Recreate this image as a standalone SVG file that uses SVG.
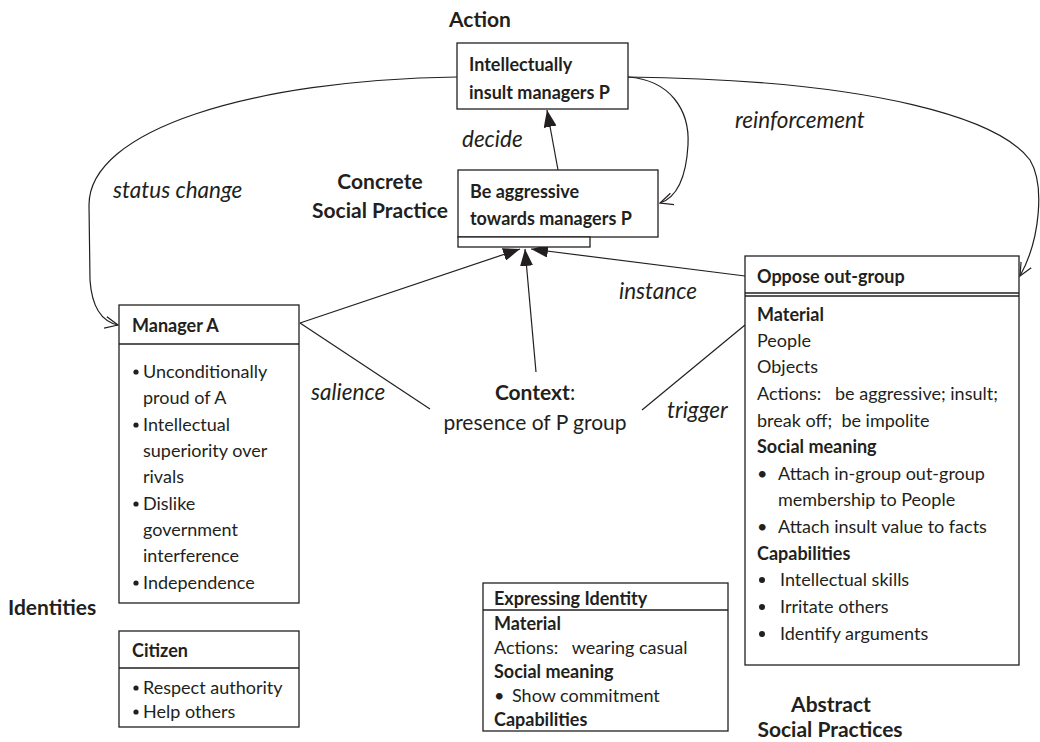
<svg xmlns="http://www.w3.org/2000/svg" width="1040" height="742" viewBox="0 0 1040 742">
  <defs>
    <style>
      text { font-family: Lato, "Open Sans", "Liberation Sans", sans-serif; fill: #231f20; }
      .box { fill: #ffffff; stroke: #231f20; stroke-width: 1.3; }
      .sep { stroke: #231f20; stroke-width: 1.3; fill: none; }
      .hd { font-size: 18px; font-weight: bold; }
      .tx { font-size: 18px; }
      .lbl { font-size: 22.5px; font-style: italic; }
      .cat { font-size: 21px; font-weight: bold; }
      .edge { fill: none; stroke: #231f20; stroke-width: 1.2; }
    </style>
    <marker id="solid" viewBox="0 0 17 13" refX="17" refY="6.5" markerWidth="17" markerHeight="13" markerUnits="userSpaceOnUse" orient="auto">
      <path d="M0,0 L17,6.5 L0,13 Z" fill="#231f20"/>
    </marker>
    <marker id="open" viewBox="0 0 14 14" refX="13" refY="7" markerWidth="14" markerHeight="14" markerUnits="userSpaceOnUse" orient="auto">
      <path d="M0,1 L13,7 L0,13" fill="none" stroke="#231f20" stroke-width="1.2"/>
    </marker>
  </defs>

  <rect width="1040" height="742" fill="#ffffff"/>

  <!-- category labels -->
  <g id="labels">
    <text class="cat" x="449" y="27">Action</text>
    <text class="cat" x="380" y="189" text-anchor="middle">Concrete</text>
    <text class="cat" x="380" y="218" text-anchor="middle">Social Practice</text>
    <text class="cat" x="8" y="615">Identities</text>
    <text class="cat" x="831" y="712" text-anchor="middle">Abstract</text>
    <text class="cat" x="830" y="737" text-anchor="middle">Social Practices</text>
  </g>

  <!-- connectors -->
  <g id="connectors">
    <line class="edge" x1="558" y1="170" x2="547" y2="110" marker-end="url(#solid)"/>
    <path class="edge" d="M457,77 C250,80 89,130 89,205 L90,280 C92,310 104,322 118,325" marker-end="url(#open)"/>
    <path class="edge" d="M628,77 C670,80 690,110 688,145 C686,180 675,198 660,203" marker-end="url(#open)"/>
    <path class="edge" d="M628,77 C880,80 1000,120 1030,160 C1045,185 1040,240 1020,276" marker-end="url(#open)"/>
    <line class="edge" x1="300" y1="323" x2="520" y2="249" marker-end="url(#solid)"/>
    <line class="edge" x1="536" y1="372" x2="525" y2="249" marker-end="url(#solid)"/>
    <line class="edge" x1="745" y1="276" x2="531" y2="249" marker-end="url(#solid)"/>
    <line class="edge" x1="300" y1="323" x2="430" y2="409"/>
    <line class="edge" x1="745" y1="325" x2="642" y2="410"/>
    <text class="lbl" x="462" y="147">decide</text>
    <text class="lbl" x="735" y="128">reinforcement</text>
    <text class="lbl" x="113" y="198">status change</text>
    <text class="lbl" x="619" y="299">instance</text>
    <text class="lbl" x="311" y="400">salience</text>
    <text class="lbl" x="667" y="418">trigger</text>
  </g>

  <!-- Action -->
  <g id="action">
    <rect class="box" x="457" y="43" width="171" height="66"/>
    <text class="hd" x="469" y="71">Intellectually</text>
    <text class="hd" x="469" y="99">insult managers P</text>
  </g>

  <!-- Concrete social practice -->
  <g id="concrete-practice">
    <rect class="box" x="458" y="170" width="200" height="67"/>
    <rect class="box" x="458" y="237" width="132" height="10"/>
    <text class="hd" x="470" y="198">Be aggressive</text>
    <text class="hd" x="470" y="225">towards managers P</text>
  </g>

  <!-- Context -->
  <g id="context">
    <text x="535" y="400" text-anchor="middle" style="font-size:21px"><tspan font-weight="bold">Context</tspan>:</text>
    <text x="535" y="430" text-anchor="middle" style="font-size:21px">presence of P group</text>
  </g>

  <!-- Manager A identity -->
  <g id="manager-a">
    <rect class="box" x="119" y="305" width="180" height="298"/>
    <line class="sep" x1="119" y1="344" x2="299" y2="344"/>
    <text class="hd" x="132" y="332">Manager A</text>
    <g class="tx">
      <circle cx="136" cy="372" r="2.6" fill="#231f20"/>
      <text x="143" y="378">Unconditionally</text>
      <text x="143" y="404">proud of A</text>
      <circle cx="136" cy="425" r="2.6" fill="#231f20"/>
      <text x="143" y="431">Intellectual</text>
      <text x="143" y="457">superiority over</text>
      <text x="143" y="483">rivals</text>
      <circle cx="136" cy="504" r="2.6" fill="#231f20"/>
      <text x="143" y="510">Dislike</text>
      <text x="143" y="536">government</text>
      <text x="143" y="562">interference</text>
      <circle cx="136" cy="583" r="2.6" fill="#231f20"/>
      <text x="143" y="589">Independence</text>
    </g>
  </g>

  <!-- Citizen identity -->
  <g id="citizen">
    <rect class="box" x="119" y="631" width="180" height="96"/>
    <line class="sep" x1="119" y1="668" x2="299" y2="668"/>
    <text class="hd" x="132" y="657">Citizen</text>
    <g class="tx">
      <circle cx="136" cy="688" r="2.6" fill="#231f20"/>
      <text x="143" y="694">Respect authority</text>
      <circle cx="136" cy="712" r="2.6" fill="#231f20"/>
      <text x="143" y="718">Help others</text>
    </g>
  </g>

  <!-- Oppose out-group practice -->
  <g id="oppose-out-group">
    <rect class="box" x="745" y="256" width="274" height="409"/>
    <line class="sep" x1="745" y1="293" x2="1019" y2="293"/>
    <line class="sep" x1="745" y1="296" x2="1019" y2="296"/>
    <text class="hd" x="757" y="283">Oppose out-group</text>
    <text class="hd" x="757" y="321">Material</text>
    <text class="tx" x="757" y="347">People</text>
    <text class="tx" x="757" y="373">Objects</text>
    <text class="tx" x="757" y="400" xml:space="preserve">Actions:   be aggressive; insult;</text>
    <text class="tx" x="757" y="427" xml:space="preserve">break off;  be impolite</text>
    <text class="hd" x="757" y="453">Social meaning</text>
    <text class="tx" x="757" y="480">•</text>
    <text class="tx" x="778" y="480">Attach in-group out-group</text>
    <text class="tx" x="778" y="506">membership to People</text>
    <text class="tx" x="757" y="533">•</text>
    <text class="tx" x="778" y="533">Attach insult value to facts</text>
    <text class="hd" x="757" y="560">Capabilities</text>
    <circle cx="762" cy="580" r="3" fill="#231f20"/>
    <text class="tx" x="780" y="586">Intellectual skills</text>
    <circle cx="762" cy="607" r="3" fill="#231f20"/>
    <text class="tx" x="780" y="613">Irritate others</text>
    <circle cx="762" cy="634" r="3" fill="#231f20"/>
    <text class="tx" x="780" y="640">Identify arguments</text>
  </g>

  <!-- Expressing identity practice -->
  <g id="expressing-identity">
    <rect class="box" x="483" y="583" width="245" height="148"/>
    <line class="sep" x1="483" y1="610" x2="728" y2="610"/>
    <text class="hd" x="494" y="605">Expressing Identity</text>
    <text class="hd" x="494" y="630">Material</text>
    <text class="tx" x="494" y="654" xml:space="preserve">Actions:   wearing casual</text>
    <text class="hd" x="494" y="678">Social meaning</text>
    <text class="tx" x="494" y="702">•</text>
    <text class="tx" x="512" y="702">Show commitment</text>
    <text class="hd" x="494" y="726">Capabilities</text>
  </g>
</svg>
